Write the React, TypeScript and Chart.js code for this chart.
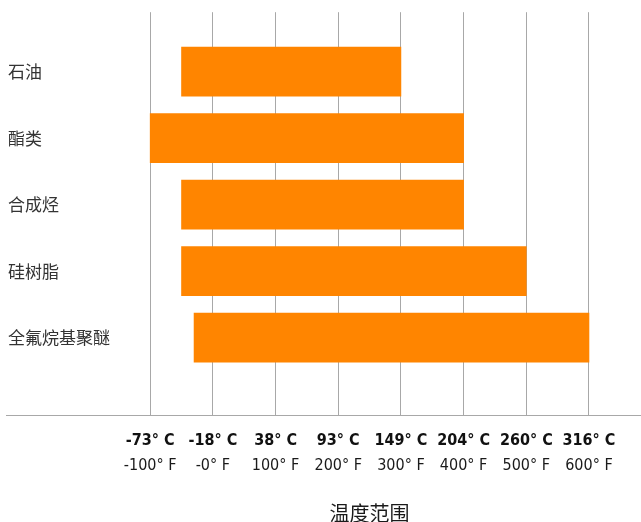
import React, { useEffect, useRef } from "react";
import { Chart, registerables } from "chart.js";

Chart.register(...registerables);

const categories = ["石油", "酯类", "合成烃", "硅树脂", "全氟烷基聚醚"];
const minTempF = [-50, -100, -50, -50, -30];
const maxTempF = [300, 400, 400, 500, 600];
const tickValuesF = [-100, 0, 100, 200, 300, 400, 500, 600];
const celsiusLabels = ["-73° C", "-18° C", "38° C", "93° C", "149° C", "204° C", "260° C", "316° C"];
const fahrenheitLabels = ["-100° F", "-0° F", "100° F", "200° F", "300° F", "400° F", "500° F", "600° F"];
const axisTitle = "温度范围";

const NARROW = "'Liberation Sans Narrow', 'DejaVu Sans Condensed', 'Roboto', sans-serif";
const CJK = "'Noto Sans CJK SC', 'Noto Sans', sans-serif";

export default function App() {
  const ref = useRef<HTMLCanvasElement | null>(null);

  useEffect(() => {
    document.body.style.margin = "0";
    const canvas = ref.current;
    if (!canvas) return;

    const titlePlugin = {
      id: "bottomTitle",
      afterDraw(chart: any) {
        const sx = chart.scales.x;
        const ctx = chart.ctx;
        const cx = (sx.getPixelForValue(tickValuesF[0]) + sx.getPixelForValue(tickValuesF[tickValuesF.length - 1])) / 2;
        ctx.save();
        ctx.font = `20px ${CJK}`;
        ctx.fillStyle = "#1a1a1a";
        ctx.textAlign = "center";
        ctx.textBaseline = "middle";
        ctx.fillText(axisTitle, cx, chart.height - 9);
        ctx.restore();
      },
    };

    const chart = new Chart(canvas, {
      type: "bar",
      data: {
        datasets: [
          {
            data: categories.map((_, i) => ({ y: i, x: [minTempF[i], maxTempF[i]] })) as any,
            backgroundColor: "#FF8500",
            borderWidth: 0,
            barThickness: 49,
            xAxisID: "x",
            yAxisID: "y",
          },
        ],
      },
      options: {
        indexAxis: "y",
        animation: false,
        responsive: false,
        maintainAspectRatio: false,
        layout: { padding: { top: 12, left: 6, right: 0, bottom: 0 } },
        plugins: { legend: { display: false }, tooltip: { enabled: false } },
        scales: {
          x: {
            type: "linear",
            position: "bottom",
            min: -330,
            max: 683,
            afterBuildTicks: (s: any) => {
              s.ticks = tickValuesF.map((v) => ({ value: v }));
            },
            afterFit: (s: any) => {
              s.height = 37;
            },
            grid: { color: "#a8a8a8", lineWidth: 1, drawTicks: false },
            border: { display: true, color: "#a8a8a8", width: 1 },
            ticks: {
              autoSkip: false,
              maxRotation: 0,
              padding: 16,
              color: "#111",
              font: { family: NARROW, size: 16, weight: "bold" },
              callback: (_v: any, i: number) => celsiusLabels[i],
            },
          },
          x2: {
            type: "linear",
            position: "bottom",
            min: -330,
            max: 683,
            afterBuildTicks: (s: any) => {
              s.ticks = tickValuesF.map((v) => ({ value: v }));
            },
            afterFit: (s: any) => {
              s.height = 70;
            },
            grid: { display: false, drawTicks: false },
            border: { display: false },
            ticks: {
              autoSkip: false,
              maxRotation: 0,
              padding: 4,
              color: "#1a1a1a",
              font: { family: NARROW, size: 16 },
              callback: (_v: any, i: number) => fahrenheitLabels[i],
            },
          },
          y: {
            type: "linear",
            position: "left",
            reverse: true,
            offset: false,
            min: -0.895,
            max: 5.165,
            afterBuildTicks: (s: any) => {
              s.ticks = categories.map((_, i) => ({ value: i }));
            },
            afterFit: (s: any) => {
              s.width = 0;
            },
            grid: { display: false, drawTicks: false },
            border: { display: false },
            ticks: {
              mirror: true,
              padding: 2,
              color: "#333",
              font: { family: CJK, size: 17 },
              callback: (_v: any, i: number) => categories[i],
            },
          },
        },
      } as any,
      plugins: [titlePlugin],
    });

    return () => chart.destroy();
  }, []);

  return (
    <div style={{ width: 641, height: 522 }}>
      <canvas ref={ref} width={641} height={522} style={{ display: "block" }} />
    </div>
  );
}
